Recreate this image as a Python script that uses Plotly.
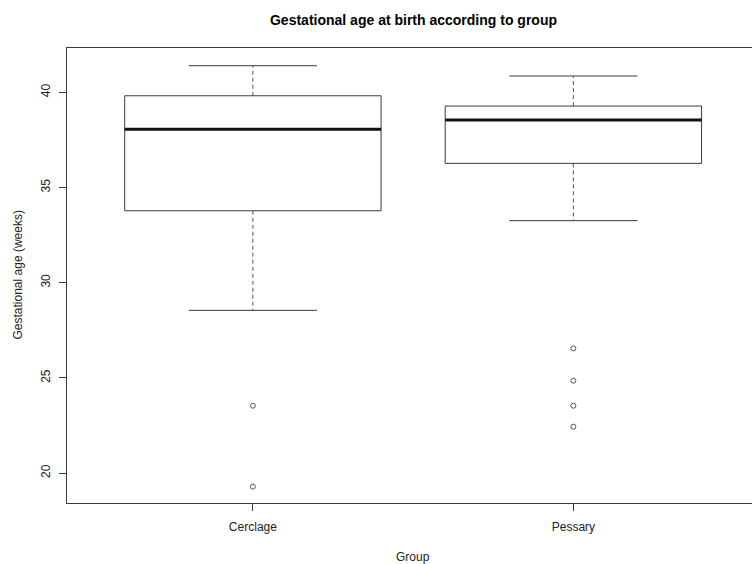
import plotly.graph_objects as go

# Summary statistics of gestational age (weeks) per group
groups = ["Cerclage", "Pessary"]
q1 = [33.78, 36.27]
median = [38.06, 38.55]
q3 = [39.82, 39.28]
whisker_low = [28.55, 33.26]
whisker_high = [41.40, 40.86]
outliers = {
    "Cerclage": [23.54, 19.29],
    "Pessary": [26.55, 24.85, 23.54, 22.44],
}

y_ticks = [20, 25, 30, 35, 40]

LINE = "#3a3a3a"
WHISK = "#555555"
FONT = "Liberation Sans, Arial, sans-serif"
BOX_HALF = 0.4
CAP_HALF = 0.2

fig = go.Figure()

for i, g in enumerate(groups):
    pos = i + 1
    # whiskers (dashed) from the box edges to the whisker ends
    fig.add_trace(go.Scatter(
        x=[pos, pos, None, pos, pos],
        y=[q3[i], whisker_high[i], None, q1[i], whisker_low[i]],
        mode="lines", line=dict(color=WHISK, width=1, dash="4px,3px"),
        hoverinfo="skip", showlegend=False))
    # whisker caps
    fig.add_trace(go.Scatter(
        x=[pos - CAP_HALF, pos + CAP_HALF, None, pos - CAP_HALF, pos + CAP_HALF],
        y=[whisker_high[i], whisker_high[i], None, whisker_low[i], whisker_low[i]],
        mode="lines", line=dict(color=LINE, width=1),
        hoverinfo="skip", showlegend=False))
    # box from Q1 to Q3
    fig.add_trace(go.Scatter(
        x=[pos - BOX_HALF, pos + BOX_HALF, pos + BOX_HALF, pos - BOX_HALF, pos - BOX_HALF],
        y=[q1[i], q1[i], q3[i], q3[i], q1[i]],
        mode="lines", line=dict(color=LINE, width=1),
        fill="toself", fillcolor="white",
        hoverinfo="skip", showlegend=False))
    # median
    fig.add_trace(go.Scatter(
        x=[pos - BOX_HALF, pos + BOX_HALF],
        y=[median[i], median[i]],
        mode="lines", line=dict(color="#111111", width=3),
        hoverinfo="skip", showlegend=False))
    # outlying observations
    pts = outliers[g]
    fig.add_trace(go.Scatter(
        x=[pos] * len(pts), y=pts, mode="markers",
        marker=dict(symbol="circle-open", size=5, color="#555555",
                    line=dict(width=1, color="#555555")),
        hoverinfo="y", showlegend=False))

W, H = 752, 564
L, R, T, B = 67, 0, 48, 61

fig.update_layout(
    width=W, height=H,
    margin=dict(l=L, r=R, t=T, b=B),
    paper_bgcolor="white", plot_bgcolor="white",
    font=dict(family=FONT, size=12, color="#222222"),
    title=dict(text="<b>Gestational age at birth according to group</b>",
               font=dict(family=FONT, size=14, color="#000000"),
               x=413.5 / W, xref="container", xanchor="center",
               y=1 - 20 / H, yref="container", yanchor="middle"),
    xaxis=dict(range=[0.42, 0.42 + (W - L) / 320.5],
               tickvals=[1, 2], ticktext=groups,
               ticks="outside", ticklen=7, tickcolor=LINE, tickwidth=1,
               showline=True, linecolor=LINE, linewidth=1, mirror=True,
               showgrid=False, zeroline=False,
               tickfont=dict(size=12, color="#222222"),
               ticklabelstandoff=6),
    yaxis=dict(range=[18.43, 42.33], tickvals=y_ticks,
               ticks="outside", ticklen=7, tickcolor=LINE, tickwidth=1,
               showline=True, linecolor=LINE, linewidth=1, mirror=False,
               showgrid=False, zeroline=False, tickangle=-90,
               tickfont=dict(size=12, color="#222222"),
               ticklabelstandoff=4),
    annotations=[
        dict(text="Group", xref="paper", yref="paper",
             x=(413.5 - L) / (W - L), y=(H - B - 557) / (H - T - B),
             xanchor="center", yanchor="middle", showarrow=False,
             font=dict(family=FONT, size=12, color="#222222")),
        dict(text="Gestational age (weeks)", xref="paper", yref="paper",
             x=(17 - L) / (W - L), y=0.5, textangle=-90,
             xanchor="center", yanchor="middle", showarrow=False,
             font=dict(family=FONT, size=12, color="#222222")),
    ],
)

fig.write_html("out.html")
